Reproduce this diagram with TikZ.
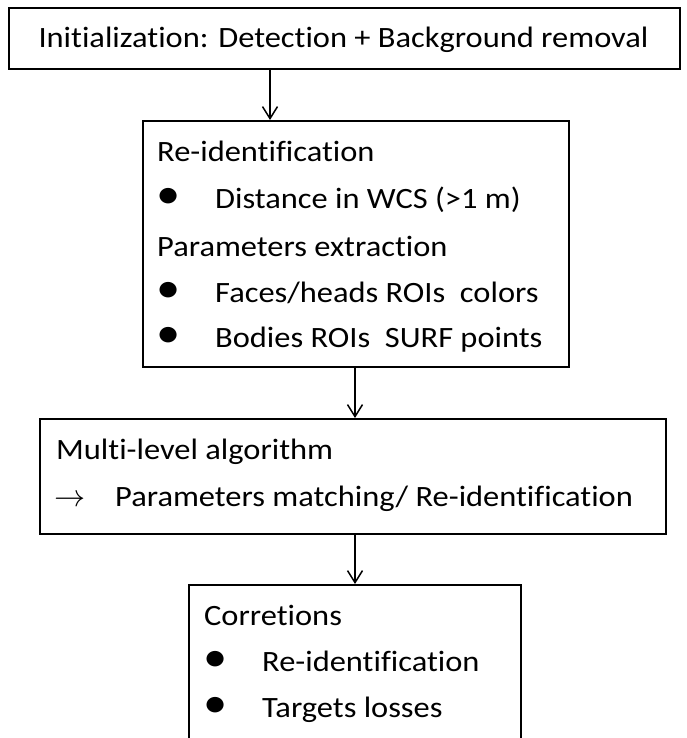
\documentclass[tikz,border=0pt]{standalone}
\usepackage{fontspec}
\setmainfont{Carlito}[FakeStretch=1.10, Ligatures=NoCommon]
\usetikzlibrary{arrows.meta}

\tikzset{
  stage/.style={draw, line width=2pt, anchor=north west, inner sep=0pt},
  txt/.style={anchor=base west, inner sep=0pt, font=\fontsize{29.5}{34}\selectfont},
  dot/.style={txt, font=\fontsize{44}{44}\selectfont},
  flow/.style={line width=1.5pt, -{Straight Barb[length=12pt,width=15pt]}}
}

\begin{document}
\begin{tikzpicture}[x=1pt,y=-1pt]
  \useasboundingbox (0,0) rectangle (687,738);
  \clip (0,0) rectangle (687,738);

  % stage boxes
  \node[stage, line width=2.4pt, minimum width=671pt, minimum height=61pt] (init) at (8,7) {};
  \node[stage, minimum width=426pt, minimum height=246pt] (reid) at (142,120) {};
  \node[stage, minimum width=626pt, minimum height=115pt] (multi) at (39,418) {};
  \node[stage, minimum width=332pt, minimum height=200pt] (corr) at (188,584) {};

  % init
  \node[txt, anchor=base] (initT) at (343.5,48) {Initialization: Detection + Background removal};

  % re-identification
  \node[txt] (reidA) at (157,162) {Re-identification};
  \node[dot] (reidB0) at (156,208) {\textbullet};
  \node[txt] (reidB) at (215,208) {Distance in WCS (>1 m)};
  \node[txt] (reidC) at (157,256) {Parameters extraction};
  \node[dot] (reidD0) at (156,302) {\textbullet};
  \node[txt] (reidD) at (215,302) {Faces/heads ROIs~ colors};
  \node[dot] (reidE0) at (156,347) {\textbullet};
  \node[txt] (reidE) at (215,347) {Bodies ROIs~ SURF points};

  % multi-level
  \node[txt] (multiA) at (56,459) {Multi-level algorithm};
  \node[txt, font=\fontsize{24.88}{26}\selectfont] (multiB0) at (54,506) {\scalebox{1.25}{$\rightarrow$}};
  \node[txt] (multiB) at (115,506) {Parameters matching/ Re-identification};

  % corrections
  \node[txt] (corrA) at (204,625) {Corretions};
  \node[dot] (corrB0) at (203,671) {\textbullet};
  \node[txt] (corrB) at (262,671) {Re-identification};
  \node[dot] (corrC0) at (203,717) {\textbullet};
  \node[txt] (corrC) at (262,717) {Targets losses};

  % arrows
  \coordinate (a1) at (270,0);
  \draw[flow] (init.south -| a1) -- (reid.north -| a1);
  \draw[flow] (reid.south -| corr.north) -- (multi.north -| corr.north);
  \draw[flow] (multi.south -| corr.north) -- (corr.north);
\end{tikzpicture}
\end{document}
